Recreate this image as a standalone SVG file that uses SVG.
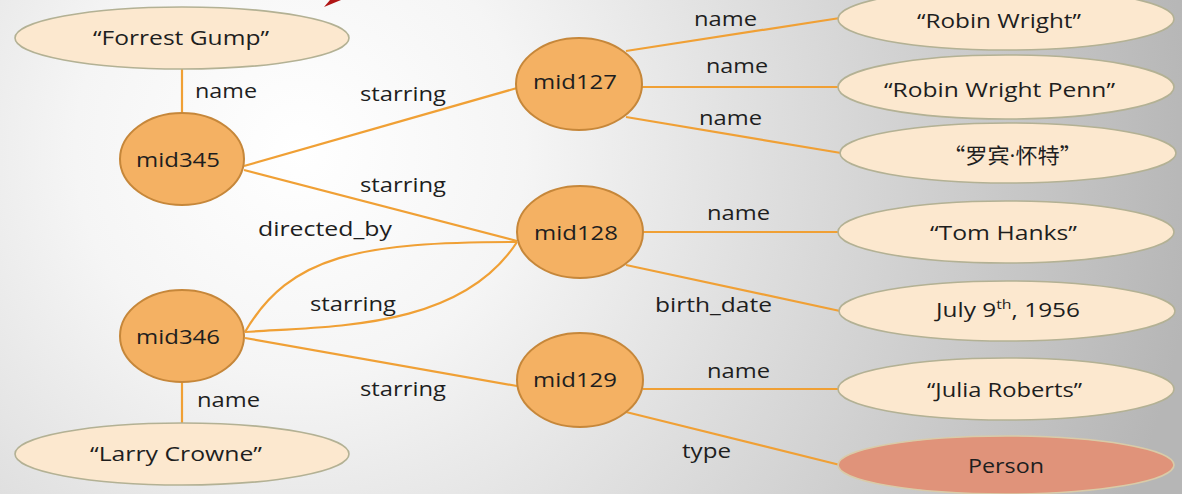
<svg xmlns="http://www.w3.org/2000/svg" width="1182" height="494" viewBox="0 0 1182 494">
<defs>
<radialGradient id="bg" gradientUnits="userSpaceOnUse" cx="300" cy="150" r="900">
<stop offset="0" stop-color="#ffffff"/>
<stop offset="0.25" stop-color="#f5f5f5"/>
<stop offset="1" stop-color="#b6b6b6"/>
</radialGradient>
</defs>
<style>
.lit{fill:#fce8cf;stroke:#b3b194;stroke-width:1.6}
.ent{fill:#f4b163;stroke:#c6873a;stroke-width:2}
.typ{fill:#e0937a;stroke:#d9cba8;stroke-width:1.6}
.edge{fill:none;stroke:#f0a035;stroke-width:2.2}
text{font-family:"Open Sans","Liberation Sans",sans-serif;font-size:20px;fill:#1e1e1e;text-anchor:start}
.cjk{font-family:"Noto Sans CJK SC","Open Sans",sans-serif;font-size:21px}
.dot{font-family:"Open Sans","Liberation Sans",sans-serif}
</style>
<rect width="1182" height="494" fill="url(#bg)"/>
<polygon points="324,7 330,0 341,0" fill="#b01515"/>
<g id="connectors">
<line class="edge" x1="182" y1="68" x2="182" y2="113"/>
<line class="edge" x1="244" y1="166" x2="517" y2="88"/>
<line class="edge" x1="244" y1="170" x2="517" y2="241"/>
<path class="edge" d="M245,332 C290,255 360,242 517,242"/>
<path class="edge" d="M245,332 C330,326 460,330 517,242"/>
<line class="edge" x1="245" y1="338" x2="517" y2="386"/>
<line class="edge" x1="182" y1="382" x2="182" y2="423"/>
<line class="edge" x1="626" y1="51" x2="840" y2="18"/>
<line class="edge" x1="642" y1="87" x2="838" y2="87"/>
<line class="edge" x1="626" y1="117" x2="841" y2="153"/>
<line class="edge" x1="643" y1="232" x2="840" y2="232"/>
<line class="edge" x1="626" y1="265" x2="840" y2="311"/>
<line class="edge" x1="643" y1="389" x2="840" y2="389"/>
<line class="edge" x1="626" y1="412" x2="840" y2="465"/>
<text x="195" y="98" textLength="62" lengthAdjust="spacingAndGlyphs">name</text>
<text x="360" y="101" textLength="86" lengthAdjust="spacingAndGlyphs">starring</text>
<text x="360" y="192" textLength="86" lengthAdjust="spacingAndGlyphs">starring</text>
<text x="258" y="236" textLength="134" lengthAdjust="spacingAndGlyphs">directed_by</text>
<text x="310" y="311" textLength="86" lengthAdjust="spacingAndGlyphs">starring</text>
<text x="360" y="396" textLength="86" lengthAdjust="spacingAndGlyphs">starring</text>
<text x="197" y="407" textLength="63" lengthAdjust="spacingAndGlyphs">name</text>
<text x="694" y="26" textLength="63" lengthAdjust="spacingAndGlyphs">name</text>
<text x="706" y="73" textLength="62" lengthAdjust="spacingAndGlyphs">name</text>
<text x="699" y="125" textLength="63" lengthAdjust="spacingAndGlyphs">name</text>
<text x="707" y="220" textLength="63" lengthAdjust="spacingAndGlyphs">name</text>
<text x="655" y="312" textLength="117" lengthAdjust="spacingAndGlyphs">birth_date</text>
<text x="707" y="378" textLength="63" lengthAdjust="spacingAndGlyphs">name</text>
<text x="682" y="458" textLength="49" lengthAdjust="spacingAndGlyphs">type</text>
</g>
<g id="forrest-gump">
<ellipse class="lit" cx="182" cy="38" rx="167" ry="31"/>
<text x="93" y="45" textLength="176" lengthAdjust="spacingAndGlyphs">“Forrest Gump”</text>
</g>
<g id="mid345">
<ellipse class="ent" cx="182" cy="159" rx="62" ry="46"/>
<text x="136" y="167" textLength="84" lengthAdjust="spacingAndGlyphs">mid345</text>
</g>
<g id="mid346">
<ellipse class="ent" cx="182" cy="336" rx="62" ry="46"/>
<text x="136" y="344" textLength="84" lengthAdjust="spacingAndGlyphs">mid346</text>
</g>
<g id="larry-crowne">
<ellipse class="lit" cx="182" cy="454" rx="167" ry="31"/>
<text x="90" y="461" textLength="172" lengthAdjust="spacingAndGlyphs">“Larry Crowne”</text>
</g>
<g id="mid127">
<ellipse class="ent" cx="579" cy="84" rx="63" ry="46"/>
<text x="533" y="89" textLength="84" lengthAdjust="spacingAndGlyphs">mid127</text>
</g>
<g id="mid128">
<ellipse class="ent" cx="580" cy="232" rx="63" ry="46"/>
<text x="534" y="240" textLength="84" lengthAdjust="spacingAndGlyphs">mid128</text>
</g>
<g id="mid129">
<ellipse class="ent" cx="580" cy="380" rx="63" ry="47"/>
<text x="533" y="387" textLength="84" lengthAdjust="spacingAndGlyphs">mid129</text>
</g>
<g id="robin-wright">
<ellipse class="lit" cx="1006" cy="19" rx="168" ry="31"/>
<text x="917" y="28" textLength="164" lengthAdjust="spacingAndGlyphs">“Robin Wright”</text>
</g>
<g id="robin-wright-penn">
<ellipse class="lit" cx="1006" cy="87" rx="168" ry="32"/>
<text x="884" y="97" textLength="231" lengthAdjust="spacingAndGlyphs">“Robin Wright Penn”</text>
</g>
<g id="luobin-huaite">
<ellipse class="lit" cx="1008" cy="153" rx="168" ry="30"/>
<text class="cjk" x="943" y="163" textLength="139" lengthAdjust="spacingAndGlyphs">“罗宾<tspan class="dot">·</tspan>怀特”</text>
</g>
<g id="tom-hanks">
<ellipse class="lit" cx="1006" cy="232" rx="168" ry="31"/>
<text x="930" y="240" textLength="147" lengthAdjust="spacingAndGlyphs">“Tom Hanks”</text>
</g>
<g id="birth-date">
<ellipse class="lit" cx="1007" cy="311" rx="168" ry="30"/>
<text transform="translate(936,317) scale(1.22,1)" x="0" y="0">July 9<tspan font-size="13" dy="-8">th</tspan><tspan dy="8">, 1956</tspan></text>
</g>
<g id="julia-roberts">
<ellipse class="lit" cx="1006" cy="389" rx="168" ry="31"/>
<text x="927" y="397" textLength="155" lengthAdjust="spacingAndGlyphs">“Julia Roberts”</text>
</g>
<g id="person">
<ellipse class="typ" cx="1006" cy="465" rx="168" ry="29"/>
<text x="968" y="473" textLength="76" lengthAdjust="spacingAndGlyphs">Person</text>
</g>
</svg>
